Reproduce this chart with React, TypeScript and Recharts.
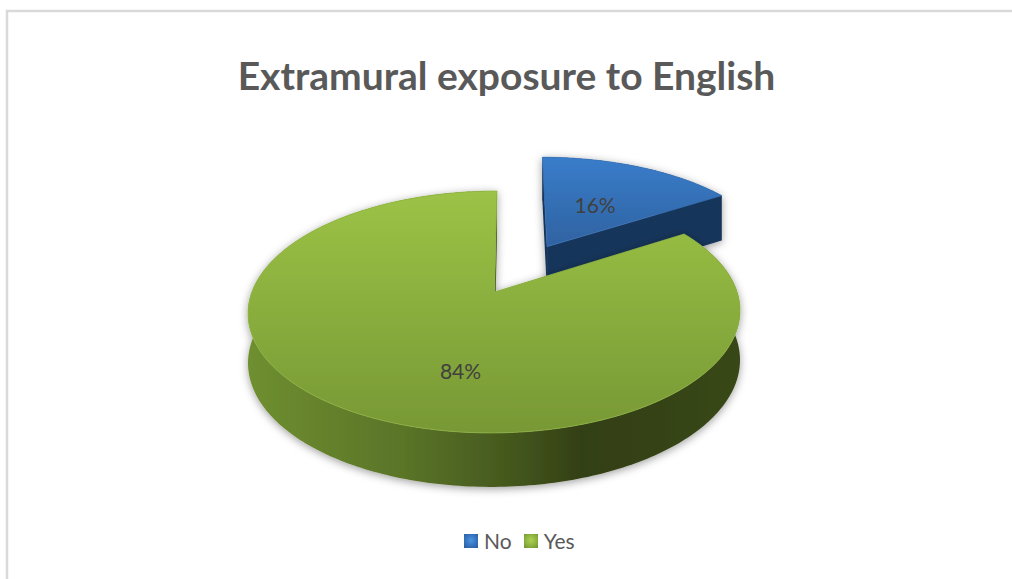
import React from "react";
import { PieChart, Pie, Legend } from "recharts";

const categories = ["No", "Yes"];
const shares = [16, 84];
const sliceFills = ["url(#topNo)", "url(#topYes)"];

const rows = categories.map((name, i) => ({ name, value: shares[i], fill: sliceFills[i] }));

const FONT = "Lato, 'Open Sans', sans-serif";

// Tilted-disc camera: a unit circle in the pie's plane is projected with mild perspective.
const SQUASH = 0.485;
const PERSPECTIVE = 0.165;
const SKEW = -0.025;
const THICKNESS = 48.8;
const PULLED_OUT = { No: 0.47, Yes: 0 } as Record<string, number>;
const LABEL_SHIFT = {
  No: { dx: -1, dy: 0 },
  Yes: { dx: -34, dy: 78 },
} as Record<string, { dx: number; dy: number }>;

const RAD = Math.PI / 180;

type Frame = { cx: number; cy: number; r: number };

function project(f: Frame, px: number, py: number, lowered: boolean) {
  const w = 1 - PERSPECTIVE * py;
  const drop = lowered ? THICKNESS / Math.pow(w, 0.56) : 0;
  const dy = (f.r * SQUASH * py) / w;
  return {
    x: f.cx + (f.r * px) / w + SKEW * dy,
    y: f.cy + dy + drop,
  };
}

const toPath = (pts: { x: number; y: number }[]) =>
  pts.map((p, i) => `${i ? "L" : "M"}${p.x.toFixed(2)} ${p.y.toFixed(2)}`).join(" ") + " Z";

function DiscSlice(props: any) {
  const { cx, cy, outerRadius, startAngle, endAngle, payload } = props;
  const f: Frame = { cx, cy, r: outerRadius };
  const name: string = payload.name;
  const mid = (startAngle + endAngle) / 2;
  const pull = PULLED_OUT[name] ?? 0;
  const ox = pull * Math.cos(mid * RAD);
  const oy = -pull * Math.sin(mid * RAD);

  const steps = Math.max(2, Math.ceil(Math.abs(endAngle - startAngle)));
  const rim: [number, number][] = [];
  for (let i = 0; i <= steps; i++) {
    const a = (startAngle + ((endAngle - startAngle) * i) / steps) * RAD;
    rim.push([ox + Math.cos(a), oy - Math.sin(a)]);
  }
  const top = rim.map(([x, y]) => project(f, x, y, false));
  const bottom = rim.map(([x, y]) => project(f, x, y, true));
  const apexTop = project(f, ox, oy, false);
  const apexBottom = project(f, ox, oy, true);

  const wall = toPath([...top, ...bottom.slice().reverse()]);
  const cutStart = toPath([apexTop, top[0], bottom[0], apexBottom]);
  const cutEnd = toPath([apexTop, top[steps], bottom[steps], apexBottom]);
  const face = toPath([apexTop, ...top]);
  const isNo = name === "No";

  return (
    <g filter="url(#discShadow)">
      <path d={wall} fill={isNo ? "#17345a" : "url(#wallYes)"} />
      <path d={cutStart} fill={isNo ? "#17345a" : "#3d4f1a"} />
      <path d={cutEnd} fill={isNo ? "#17345a" : "#3d4f1a"} />
      <path d={face} fill={payload.fill} stroke={isNo ? "#3a74b8" : "#90b544"} strokeWidth={0.8} />
    </g>
  );
}

function sliceLabel(props: any) {
  const { cx, cy, outerRadius, midAngle, name, value } = props;
  const f: Frame = { cx, cy, r: outerRadius };
  const pull = PULLED_OUT[name] ?? 0;
  const reach = pull + 0.5;
  const p = project(f, reach * Math.cos(midAngle * RAD), -reach * Math.sin(midAngle * RAD), false);
  const shift = LABEL_SHIFT[name];
  return (
    <text
      x={name === "Yes" ? cx + shift.dx : p.x + shift.dx}
      y={name === "Yes" ? cy + shift.dy : p.y + shift.dy}
      textAnchor="middle"
      dominantBaseline="central"
      fontFamily={FONT}
      fontSize={21}
      fill="#404040"
    >
      {`${value}%`}
    </text>
  );
}

const swatchGlow: Record<string, string> = {
  No: "radial-gradient(circle at 50% 45%, #4a94e0 0%, #3572bd 55%, #2c5a96 100%)",
  Yes: "radial-gradient(circle at 50% 45%, #aed052 0%, #8cb23f 55%, #6f8f32 100%)",
};

function LegendRow({ payload }: any) {
  return (
    <div style={{ display: "flex", alignItems: "center", fontFamily: FONT, fontSize: 21, color: "#595959", lineHeight: "24px" }}>
      {(payload ?? []).map((item: any, i: number) => (
        <span key={item.value} style={{ display: "inline-flex", alignItems: "center", marginLeft: i ? 12 : 0 }}>
          <span style={{ width: 14, height: 14, marginRight: 6, background: swatchGlow[item.value], display: "inline-block" }} />
          {item.value}
        </span>
      ))}
    </div>
  );
}

export default function App() {
  return (
    <div style={{ position: "absolute", left: 0, top: 0, width: 1012, height: 579, overflow: "hidden", background: "#fff" }}>
      <PieChart width={1012} height={579} margin={{ top: 0, right: 0, bottom: 0, left: 0 }}>
        <defs>
          <linearGradient id="topYes" gradientUnits="userSpaceOnUse" x1="0" y1="191" x2="0" y2="433">
            <stop offset="0" stopColor="#9cc346" />
            <stop offset="1" stopColor="#779835" />
          </linearGradient>
          <linearGradient id="topNo" gradientUnits="userSpaceOnUse" x1="0" y1="156" x2="0" y2="275">
            <stop offset="0" stopColor="#397dcb" />
            <stop offset="1" stopColor="#2c5a94" />
          </linearGradient>
          <linearGradient id="wallYes" gradientUnits="userSpaceOnUse" x1="247" y1="0" x2="739" y2="0">
            <stop offset="0" stopColor="#6f8f30" />
            <stop offset="0.32" stopColor="#5a7428" />
            <stop offset="0.55" stopColor="#43561d" />
            <stop offset="0.68" stopColor="#333f14" />
            <stop offset="1" stopColor="#384718" />
          </linearGradient>
          <filter id="discShadow" filterUnits="userSpaceOnUse" x="180" y="120" width="640" height="420">
            <feDropShadow dx="0" dy="2" stdDeviation="4.5" floodColor="#000" floodOpacity="0.38" />
          </filter>
        </defs>
        <rect x={7} y={11} width={1100} height={700} fill="none" stroke="#d9d9d9" strokeWidth={2.5} />
        <text x={506.5} y={75} textAnchor="middle" dominantBaseline="central" fontFamily={FONT} fontWeight={700} fontSize={39} fill="#595959">
          Extramural exposure to English
        </text>
        <Pie
          data={rows}
          dataKey="value"
          nameKey="name"
          cx={494.5}
          cy={292}
          outerRadius={242.6}
          startAngle={90}
          endAngle={-270}
          stroke="none"
          shape={DiscSlice}
          label={sliceLabel}
          labelLine={false}
          isAnimationActive={false}
        />
        <Legend
          content={<LegendRow />}
          layout="horizontal"
          verticalAlign="bottom"
          align="left"
          wrapperStyle={{ left: 464, top: 529, bottom: "auto", width: 130 }}
        />
      </PieChart>
    </div>
  );
}
